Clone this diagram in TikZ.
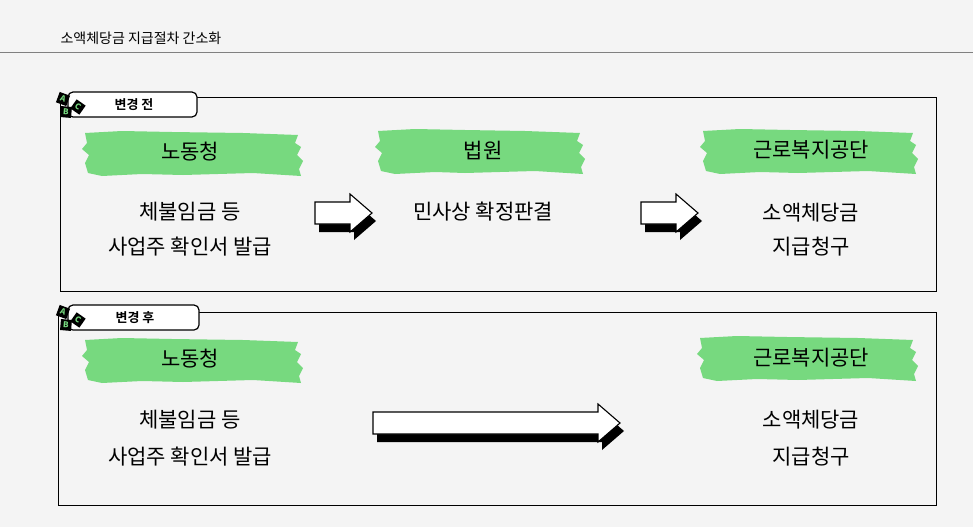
\documentclass[tikz,border=0pt]{standalone}
\usepackage{fontspec}
\usetikzlibrary{calc}
\setmainfont{Noto Sans CJK KR}
\newfontfamily\kb{Noto Sans CJK KR Bold}
\begin{document}
\begin{tikzpicture}[x=1pt,y=-1pt]
\definecolor{bg}{HTML}{F4F4F4}
\definecolor{gr}{HTML}{77D97F}
\tikzset{
 panel/.style={draw=black,line width=1pt},
 tab/.style={draw=black,line width=1.2pt,fill=white,rounded corners=5pt},
 tabtxt/.style={font=\kb\fontsize{13}{15}\selectfont,anchor=center},
 head/.style={font=\fontsize{21}{24}\selectfont,anchor=center},
 body/.style={font=\fontsize{21}{24}\selectfont,anchor=center},
 blk/.style={fill=black,minimum size=11pt,inner sep=0,text=gr,font=\bfseries\fontsize{8}{8}\selectfont},
}
\newcommand\brush[3]{% xl, xr, yc
 \fill[gr] (#1+3,#3-20) -- (#1+40,#3-22) -- (#1+90,#3-21) -- (#2-60,#3-20) -- (#2-5,#3-18)
  -- (#2-8,#3-10) -- (#2-2,#3-6) -- (#2-6,#3+2) -- (#2,#3+8) -- (#2-4,#3+16) -- (#2-2,#3+23)
  -- (#2-50,#3+20) -- (#2-120,#3+22) -- (#1+60,#3+21) -- (#1+20,#3+23) -- (#1+6,#3+20)
  -- (#1+3,#3+10) -- (#1+7,#3+2) -- (#1,#3-4) -- (#1+5,#3-10) -- cycle;}
\newcommand\arr[4]{% name, x1, x2, yc
 \begin{scope}[shift={(4,8)}]
 \fill (#2,#4-11) -- (#3-22,#4-11) -- (#3-22,#4-19) -- (#3,#4) -- (#3-22,#4+19) -- (#3-22,#4+11) -- (#2,#4+11) -- cycle;
 \end{scope}
 \draw[fill=white,line width=1.1pt] (#2,#4-11) -- (#3-22,#4-11) -- (#3-22,#4-19) -- (#3,#4) -- (#3-22,#4+19) -- (#3-22,#4+11) -- (#2,#4+11) -- cycle;
 \coordinate (#1) at (#2,#4);}
\newcommand\icon[3]{% name, x, y
 \node[blk,rotate=-20] (#1a) at (#2,#3) {A};
 \node[blk,rotate=-5] (#1b) at (#2+3,#3+13) {B};
 \node[blk,rotate=-35] (#1c) at (#2+15,#3+8) {C};}
\fill[bg] (0,0) rectangle (973,527);
\useasboundingbox (0,0) rectangle (973,527);
\node[anchor=west,font=\fontsize{14}{16}\selectfont] (title) at (57,38) {소액체당금 지급절차 간소화};
\draw[gray,line width=1pt] (0,53) -- (973,53);
% panel 1
\draw[panel] (60,97) rectangle (936,291);
\draw[tab] (68,92) rectangle (197,117);
\node[tabtxt] (t1) at (134,104.5) {변경 전};
\icon{i1}{63}{99}
\brush{82}{303}{153}
\brush{375}{585}{151}
\brush{700}{918}{151}
\node[head] (n1) at (190,152) {노동청};
\node[head] (n2) at (483,150) {법원};
\node[head] (n3) at (811,150) {근로복지공단};
\node[body] (b1) at (190,212) {체불임금 등};
\node[body] (b2) at (190,247) {사업주 확인서 발급};
\node[body] (b3) at (483,212) {민사상 확정판결};
\node[body] (b4) at (811,213) {소액체당금};
\node[body] (b5) at (811,247) {지급청구};
\arr{a1}{315}{372}{213}
\arr{a2}{641}{698}{213}
% panel 2
\draw[panel] (58,312) rectangle (936,505);
\draw[tab] (68,305) rectangle (199,330);
\node[tabtxt] (t2) at (135,317.5) {변경 후};
\icon{i2}{63}{312}
\brush{82}{303}{360}
\brush{697}{918}{358}
\node[head] (m1) at (190,359) {노동청};
\node[head] (m3) at (811,358) {근로복지공단};
\node[body] (c1) at (190,420) {체불임금 등};
\node[body] (c2) at (190,457) {사업주 확인서 발급};
\node[body] (c4) at (811,420) {소액체당금};
\node[body] (c5) at (811,457) {지급청구};
\arr{a3}{373}{620}{423}
\end{tikzpicture}
\end{document}
